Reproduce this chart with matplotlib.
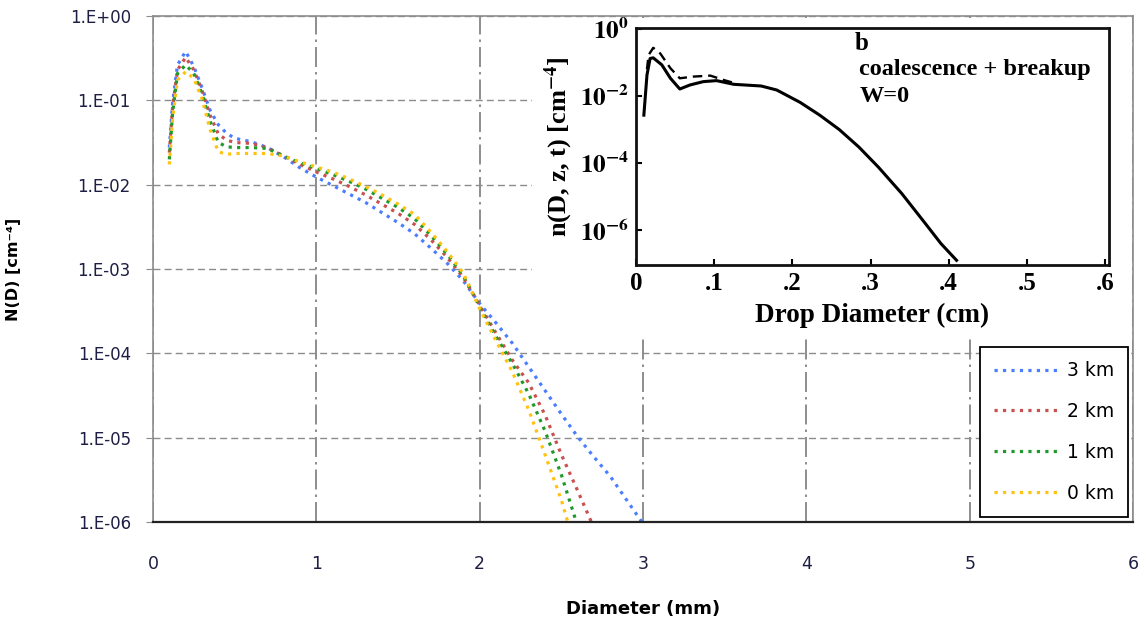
import numpy as np
import matplotlib.pyplot as plt
from matplotlib.ticker import NullLocator

plt.rcParams['mathtext.fontset'] = 'stix'

# main chart: drop diameter (mm) and log10 of N(D) [cm^-4] for each height
diam = [0.1, 0.12, 0.15, 0.2, 0.25, 0.3, 0.35, 0.4, 0.45, 0.5, 0.6, 0.7, 0.8, 0.9,
        1.0, 1.1, 1.2, 1.3, 1.4, 1.5, 1.6, 1.7, 1.8, 1.9, 2.0, 2.1, 2.2, 2.3, 2.4,
        2.5, 2.6, 2.7, 2.8, 2.9, 3.0]
log_n_3km = [-1.56, -1.03, -0.58, -0.42, -0.60, -0.85, -1.12, -1.29, -1.39, -1.45,
             -1.49, -1.56, -1.67, -1.80, -1.91, -2.01, -2.11, -2.21, -2.33, -2.45,
             -2.58, -2.75, -2.93, -3.14, -3.41, -3.64, -3.88, -4.16, -4.44, -4.72,
             -4.99, -5.23, -5.46, -5.74, -6.02]
log_n_2km = [-1.62, -1.08, -0.64, -0.49, -0.64, -0.88, -1.18, -1.40, -1.47, -1.50,
             -1.51, -1.56, -1.66, -1.76, -1.85, -1.93, -2.02, -2.12, -2.23, -2.34,
             -2.47, -2.65, -2.86, -3.10, -3.43, -3.76, -4.08, -4.35, -4.73, -5.20,
             -5.63, -6.07]
log_n_1km = [-1.70, -1.15, -0.68, -0.58, -0.68, -0.92, -1.25, -1.50, -1.55, -1.56,
             -1.56, -1.57, -1.66, -1.74, -1.81, -1.88, -1.96, -2.05, -2.16, -2.27,
             -2.40, -2.60, -2.82, -3.08, -3.45, -3.80, -4.12, -4.48, -4.92, -5.44,
             -6.05, -6.60]
log_n_0km = [-1.76, -1.22, -0.76, -0.66, -0.74, -0.98, -1.35, -1.61, -1.64, -1.63,
             -1.63, -1.63, -1.66, -1.73, -1.79, -1.85, -1.93, -2.02, -2.12, -2.23,
             -2.35, -2.56, -2.79, -3.05, -3.47, -3.85, -4.22, -4.67, -5.20, -5.74,
             -6.40]
labels = ['3 km', '2 km', '1 km', '0 km']
colors = ['#4a7dff', '#c9504e', '#1f9a2a', '#ffc20e']
ytick_labels = ['1.E+00', '1.E-01', '1.E-02', '1.E-03', '1.E-04', '1.E-05', '1.E-06']

# inset (scanned reference figure): diameter (cm), log10 n(D, z, t)
inset_d_solid = [0.010, 0.014, 0.018, 0.022, 0.033, 0.044, 0.056, 0.069, 0.086, 0.103,
                 0.125, 0.16, 0.18, 0.21, 0.235, 0.26, 0.285, 0.31, 0.34, 0.37, 0.39, 0.41]
inset_log_solid = [-2.57, -1.37, -0.88, -0.86, -1.07, -1.47, -1.79, -1.67, -1.57, -1.54,
                   -1.65, -1.70, -1.82, -2.19, -2.57, -3.0, -3.52, -4.12, -4.91, -5.8,
                   -6.4, -6.9]
inset_d_dash = [0.014, 0.016, 0.022, 0.031, 0.044, 0.056, 0.073, 0.095, 0.112, 0.13]
inset_log_dash = [-1.2, -0.78, -0.56, -0.73, -1.17, -1.47, -1.42, -1.39, -1.52, -1.64]

fig = plt.figure(figsize=(11.46, 6.25), dpi=100)
ax = fig.add_axes([0.1335, 0.1648, 0.8552, 0.8096])

all_series = [log_n_3km, log_n_2km, log_n_1km, log_n_0km]
for lab, vals, col in zip(labels, all_series, colors):
    ax.plot(diam[:len(vals)], 10.0 ** np.array(vals), ls=':', lw=2.3,
            color=col, label=lab)

ax.set_yscale('log')
ax.set_ylim(1e-6, 1)
ax.set_xlim(0, 6)
ax.set_yticks([10.0 ** -k for k in range(7)])
ax.set_yticklabels(ytick_labels)
ax.yaxis.set_minor_locator(NullLocator())
ax.set_xticks(range(7))
ax.yaxis.grid(True, ls=(0, (5, 3)), color='#8c8c8c', lw=1)
ax.xaxis.grid(True, ls=(0, (12, 3, 1.5, 3)), color='#7a7a7a', lw=1.2)
ax.set_axisbelow(True)

for side in ['left', 'top', 'right']:
    ax.spines[side].set_color('#8c8c8c')
    ax.spines[side].set_linewidth(1.2)
ax.spines['bottom'].set_color('#222222')
ax.spines['bottom'].set_linewidth(1.6)

ax.tick_params(axis='y', length=5, color='#8c8c8c', pad=11, labelsize=12,
               labelcolor='#1e1e44')
ax.tick_params(axis='x', length=0, pad=24, labelsize=12.5, labelcolor='#1e1e44')

ax.set_ylabel('N(D) [cm⁻⁴]', fontweight='bold', fontsize=11.5)
ax.yaxis.set_label_coords(-0.135, 0.5)
ax.set_xlabel('Diameter (mm)', fontweight='bold', fontsize=13)
ax.xaxis.set_label_coords(0.5, -0.155)

leg = ax.legend(loc='lower right', bbox_to_anchor=(0.9949, 0.0099), borderaxespad=0,
                fancybox=False, edgecolor='black', fontsize=13.5, handlelength=3.5,
                handletextpad=0.4, labelspacing=1.17, borderpad=0.75, framealpha=1)
leg.get_frame().set_linewidth(1.3)

# white panel of the pasted figure
bg = fig.add_axes([532 / 1146, 1 - 338 / 625, (1131.5 - 532) / 1146, (338 - 17.5) / 625])
bg.set_facecolor('white')
bg.set_xticks([])
bg.set_yticks([])
for s in bg.spines.values():
    s.set_visible(False)

serif = 'Liberation Serif'
ax_in = fig.add_axes([0.555, 0.576, 0.4127, 0.3792])
ax_in.plot(inset_d_solid, 10.0 ** np.array(inset_log_solid), color='black', lw=2.2)
ax_in.plot(inset_d_dash, 10.0 ** np.array(inset_log_dash), color='black', lw=1.7,
           ls=(0, (4, 2.5)))
ax_in.set_yscale('log')
ax_in.set_ylim(10 ** -7.04, 10 ** 0.03)
ax_in.set_xlim(0, 0.605)
ax_in.set_xticks([0, 0.1, 0.2, 0.3, 0.4, 0.5, 0.6])
ax_in.set_xticklabels(['0', '.1', '.2', '.3', '.4', '.5', '.6'], fontfamily=serif,
                      fontweight='bold')
ax_in.set_yticks([1, 1e-2, 1e-4, 1e-6])
ax_in.set_yticklabels([r'$\mathbf{10^{0}}$', r'$\mathbf{10^{-2}}$',
                       r'$\mathbf{10^{-4}}$', r'$\mathbf{10^{-6}}$'])
ax_in.yaxis.set_minor_locator(NullLocator())
ax_in.tick_params(direction='in', length=4, width=1.5, labelsize=18, pad=5)
for s in ax_in.spines.values():
    s.set_linewidth(2)
    s.set_color('#111111')
ax_in.set_xlabel('Drop Diameter (cm)', fontfamily=serif, fontweight='bold',
                 fontsize=19.5, labelpad=6)
ax_in.set_ylabel(r'n(D, z, t) [cm$^{\mathbf{-4}}$]', fontfamily=serif,
                 fontweight='bold', fontsize=19, labelpad=4)
ax_in.text(0.462, 0.935, 'b', transform=ax_in.transAxes, fontfamily=serif,
           fontweight='bold', fontsize=18, va='center')
ax_in.text(0.472, 0.823, 'coalescence + breakup', transform=ax_in.transAxes,
           fontfamily=serif, fontweight='bold', fontsize=17.5, va='center')
ax_in.text(0.472, 0.713, 'W=0', transform=ax_in.transAxes, fontfamily=serif,
           fontweight='bold', fontsize=17.5, va='center')

fig.savefig('out.png', dpi=100)
